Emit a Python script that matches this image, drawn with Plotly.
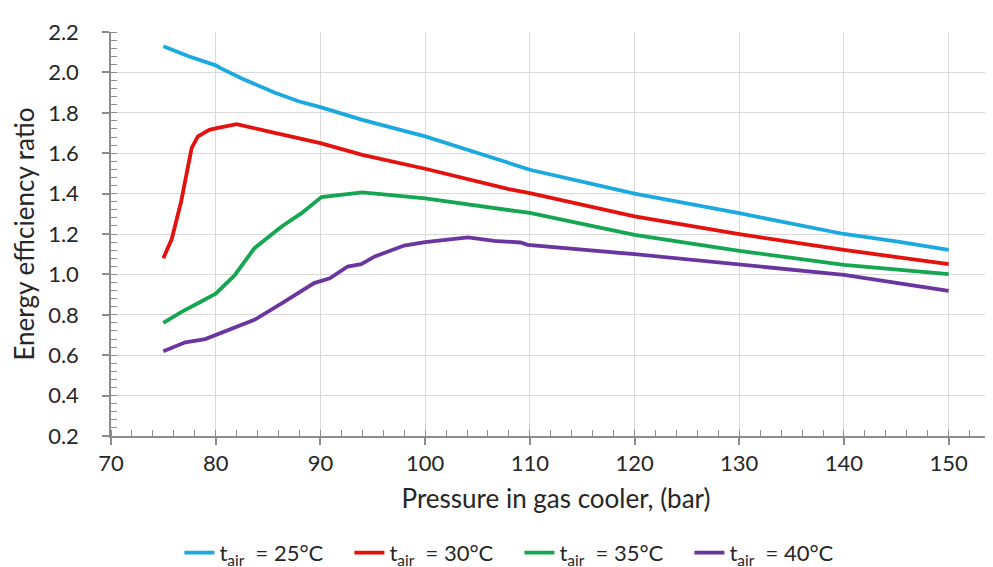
import plotly.graph_objects as go

# ---- data ----
p_25 = [75, 77.4, 80, 80.5, 82.5, 85.6, 87.9, 90, 94, 100, 106, 110, 120, 130, 140, 145, 150]
eer_25 = [2.13, 2.08, 2.035, 2.02, 1.97, 1.90, 1.857, 1.828, 1.765, 1.683, 1.585, 1.518, 1.40, 1.303, 1.200, 1.163, 1.121]

p_30 = [75, 75.8, 76.7, 77.7, 78.3, 79.4, 80.1, 82, 85, 88, 90, 94, 100, 108, 110, 120, 130, 140, 150]
eer_30 = [1.08, 1.175, 1.361, 1.625, 1.683, 1.716, 1.724, 1.744, 1.708, 1.675, 1.65, 1.592, 1.523, 1.422, 1.402, 1.287, 1.199, 1.121, 1.051]

p_35 = [75, 76.7, 78.3, 80, 81.8, 83.7, 86.3, 88.2, 90.1, 92.6, 94, 100, 108, 110, 120, 130, 140, 150]
eer_35 = [0.76, 0.813, 0.857, 0.905, 0.995, 1.13, 1.237, 1.303, 1.383, 1.397, 1.406, 1.376, 1.32, 1.304, 1.196, 1.117, 1.047, 1.001]

p_40 = [75, 77.1, 79, 80, 83.7, 86.3, 89.4, 90.9, 92, 92.6, 93.9, 95.2, 98, 100, 104.1, 106.6, 109.1, 109.8, 120, 130, 140, 150]
eer_40 = [0.62, 0.664, 0.68, 0.70, 0.775, 0.857, 0.957, 0.981, 1.022, 1.039, 1.051, 1.089, 1.143, 1.16, 1.183, 1.166, 1.158, 1.146, 1.10, 1.05, 0.998, 0.918]

series_names = ["t<sub>air</sub>  = 25°C", "t<sub>air</sub>  = 30°C",
                "t<sub>air</sub>  = 35°C", "t<sub>air</sub>  = 40°C"]
series_x = [p_25, p_30, p_35, p_40]
series_y = [eer_25, eer_30, eer_35, eer_40]
colors = ["#1BA9E0", "#E3120F", "#14A651", "#6B35A0"]

x_title = "Pressure in gas cooler, (bar)"
y_title = "Energy efficiency ratio"

FONT = "Lato, 'Open Sans', sans-serif"
TXT = "#262626"

fig = go.Figure()
for xs, ys, name, c in zip(series_x, series_y, series_names, colors):
    fig.add_trace(go.Scatter(x=xs, y=ys, mode="lines", name=name,
                             line=dict(color=c, width=3.8)))

axis_col = "#8c8c8c"
grid_col = "#d9d9d9"

fig.update_layout(
    width=993, height=567,
    margin=dict(l=103, r=0, t=24, b=139),
    paper_bgcolor="white", plot_bgcolor="white",
    font=dict(family=FONT, color=TXT),
    showlegend=True,
    legend=dict(orientation="h", xref="container", yref="container",
                x=0.515, xanchor="center", y=0.076, yanchor="top",
                font=dict(size=22, family=FONT, color=TXT),
                entrywidth=125, entrywidthmode="pixels",
                itemwidth=30, tracegroupgap=0, bgcolor="rgba(0,0,0,0)"),
    xaxis=dict(range=[70, 155], dtick=10, tick0=70,
               showgrid=True, gridcolor=grid_col, gridwidth=1,
               showline=True, linecolor=axis_col, linewidth=1.5,
               ticks="outside", ticklen=7, tickcolor=axis_col, tickwidth=1.5,
               minor=dict(dtick=2, ticks="inside", ticklen=6, tickcolor=axis_col,
                          tickwidth=1, showgrid=False),
               tickfont=dict(size=22, family=FONT, color=TXT),
               ticklabelstandoff=0,
               title=dict(text=x_title, font=dict(size=26, family=FONT, color=TXT),
                          standoff=15),
               zeroline=False),
    yaxis=dict(range=[0.2, 2.2], dtick=0.2, tick0=0.2, tickformat=".1f",
               showgrid=True, gridcolor=grid_col, gridwidth=1,
               showline=True, linecolor=axis_col, linewidth=1.5,
               ticks="outside", ticklen=7, tickcolor=axis_col, tickwidth=1.5,
               minor=dict(dtick=0.04, ticks="inside", ticklen=6, tickcolor=axis_col,
                          tickwidth=1, showgrid=False),
               tickfont=dict(size=22, family=FONT, color=TXT),
               ticklabelstandoff=19,
               title=dict(text=y_title, font=dict(size=26, family=FONT, color=TXT),
                          standoff=8),
               zeroline=False),
    xaxis2=dict(overlaying="x", anchor="y", range=[70, 155], dtick=10, tick0=70,
                showgrid=False, showline=False, ticks="inside", ticklen=7,
                tickcolor=axis_col, tickwidth=1.5, showticklabels=False, zeroline=False),
    yaxis2=dict(overlaying="y", anchor="x", range=[0.2, 2.2], dtick=0.2, tick0=0.2,
                showgrid=False, showline=False, ticks="inside", ticklen=7,
                tickcolor=axis_col, tickwidth=1.5, showticklabels=False, zeroline=False),
)

fig.write_html("out.html")
